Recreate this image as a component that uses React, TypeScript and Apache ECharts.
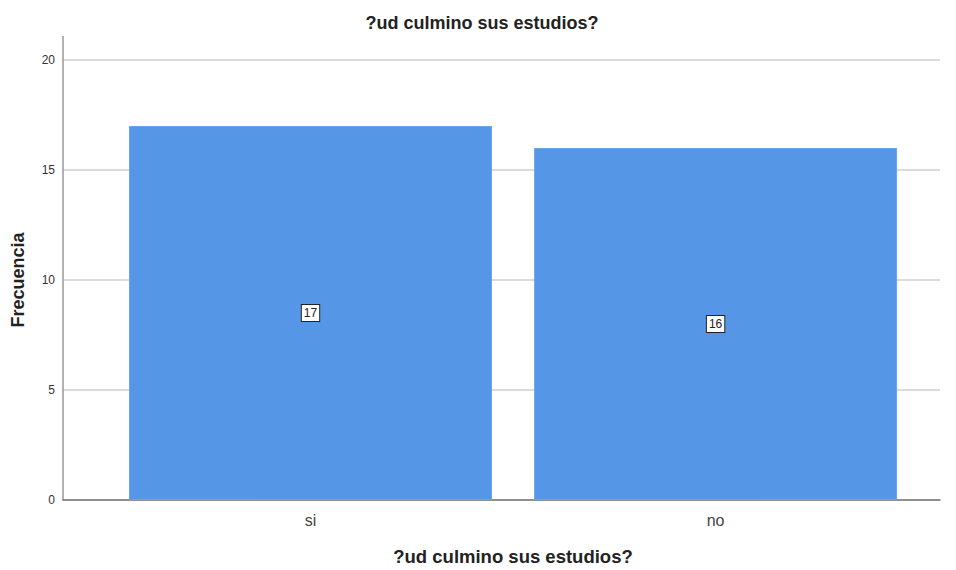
import React, { useEffect, useRef } from "react";
import * as echarts from "echarts";

const categories = ["si", "no"];
const values = [17, 16];
const yTicks = [0, 5, 10, 15, 20];

export default function App() {
  const ref = useRef<HTMLDivElement>(null);
  useEffect(() => {
    if (!ref.current) return;
    const chart = echarts.init(ref.current, null, { renderer: "svg" });
    const font = "Liberation Sans, Arial, sans-serif";
    chart.setOption({
      animation: false,
      backgroundColor: "#ffffff",
      title: {
        text: "?ud culmino sus estudios?",
        left: 477,
        textAlign: "center",
        top: 9,
        textStyle: { fontFamily: font, fontSize: 18, fontWeight: "bold", color: "#222" },
      },
      grid: { left: 63, right: 16, top: 60, bottom: 70, containLabel: false, outerBoundsMode: "none" },
      xAxis: {
        type: "value",
        min: -0.611,
        max: 1.554,
        name: "?ud culmino sus estudios?",
        nameLocation: "middle",
        nameGap: 47,
        nameTextStyle: { fontFamily: font, fontSize: 18.5, fontWeight: "bold", color: "#222", padding: [0, 0, 0, 23] },
        axisLine: { show: true, onZero: false, lineStyle: { color: "#777", width: 1.5 } },
        axisTick: { show: false },
        splitLine: { show: false },
        axisLabel: {
          customValues: categories.map((_, i) => i),
          formatter: (v: number) => categories[Math.round(v)] ?? "",
          fontFamily: font,
          fontSize: 16,
          color: "#444",
          margin: 12,
        },
      },
      yAxis: {
        type: "value",
        min: yTicks[0],
        max: yTicks[yTicks.length - 1],
        interval: 5,
        name: "Frecuencia",
        nameLocation: "middle",
        nameGap: 36,
        nameTextStyle: { fontFamily: font, fontSize: 18, fontWeight: "bold", color: "#222" },
        axisLine: { show: true, onZero: false, lineStyle: { color: "#999", width: 1.5 } },
        axisTick: { show: false },
        axisLabel: { fontFamily: font, fontSize: 12, color: "#333", margin: 8 },
        splitLine: { show: true, lineStyle: { color: "#cfcfcf", width: 1.5 } },
      },
      graphic: [
        {
          type: "line",
          shape: { x1: 63, y1: 36, x2: 63, y2: 60 },
          style: { stroke: "#999", lineWidth: 1.5 },
        },
      ],
      series: [
        {
          type: "bar",
          data: values.map((v, i) => [i, v]),
          barWidth: 363,
          itemStyle: { color: "#5596E6", borderColor: "#6aa4ea", borderWidth: 1 },
          label: {
            show: true,
            position: "inside",
            fontFamily: font,
            fontSize: 12,
            color: "#222",
            backgroundColor: "#ffffff",
            borderColor: "#222",
            borderWidth: 1,
            padding: [3, 2, 1, 2],
          },
        },
      ],
    });
    return () => chart.dispose();
  }, []);
  return <div ref={ref} style={{ width: 956, height: 570, position: "absolute", left: 0, top: 0 }} />;
}
